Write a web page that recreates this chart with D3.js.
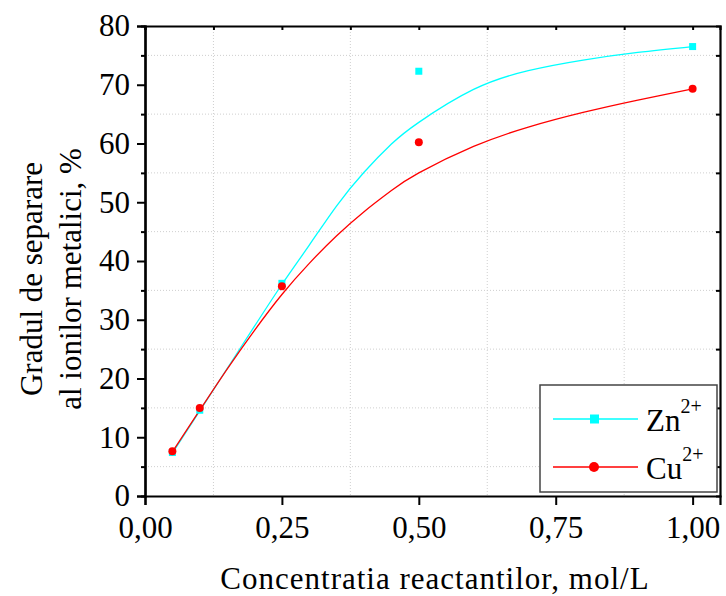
<!DOCTYPE html>
<html>
<head>
<meta charset="utf-8">
<script src="https://cdn.jsdelivr.net/npm/d3@7"></script>
<style>
  body { margin: 0; background: #fff; }
  svg, svg text { font-family: "Liberation Serif", "Times New Roman", Times, Tinos, "DejaVu Serif", "Noto Serif", serif; }
</style>
</head>
<body>
<div id="container"></div>
<script>
const WIDTH = 726;
const HEIGHT = 596;
const FONT = '"Liberation Serif", "Times New Roman", Times, Tinos, "DejaVu Serif", "Noto Serif", serif';

// measured points
const concentrations = [0.05, 0.1, 0.25, 0.5, 1.0];
const znValues = [7.4, 14.6, 36.2, 72.3, 76.5];
const cuValues = [7.6, 15.0, 35.7, 60.2, 69.3];

// fitted curves
const fitX = [0.05, 0.1, 0.15, 0.2, 0.25, 0.3, 0.35, 0.4, 0.45, 0.5, 0.6, 0.7, 0.8, 0.9, 1.0];
const znFit = [7.3, 14.5, 21.7, 28.9, 36.0, 42.7, 49.4, 55.1, 59.9, 63.6, 69.2, 72.4, 74.2, 75.5, 76.5];
const cuFit = [7.5, 14.6, 21.6, 28.2, 34.3, 39.6, 44.3, 48.4, 52.0, 55.0, 59.5, 62.8, 65.3, 67.4, 69.3];

const xTicks = [0, 0.25, 0.5, 0.75, 1.0];
const xMinor = [0.125, 0.375, 0.625, 0.875];
const yTicks = [0, 10, 20, 30, 40, 50, 60, 70, 80];
const yMinor = [5, 15, 25, 35, 45, 55, 65, 75];

const seriesNames = ["Zn", "Cu"];
const seriesColors = ["#00ffff", "#ff0000"];

const x = d3.scaleLinear().domain([0, 1.05]).range([145, 720]);
const y = d3.scaleLinear().domain([0, 80]).range([496, 26]);

const svg = d3.select("#container")
  .append("svg")
  .attr("width", WIDTH)
  .attr("height", HEIGHT)
  .attr("font-family", FONT);

// dotted grid on minor positions
const grid = svg.append("g").attr("stroke", "#cfcfcf").attr("stroke-width", 1).attr("stroke-dasharray", "1,2");
grid.selectAll(".gx").data(xMinor).enter().append("line")
  .attr("x1", (d) => x(d)).attr("x2", (d) => x(d))
  .attr("y1", y(80)).attr("y2", y(0));
grid.selectAll(".gy").data(yMinor).enter().append("line")
  .attr("x1", x(0)).attr("x2", x(1.05))
  .attr("y1", (d) => y(d)).attr("y2", (d) => y(d));

const fmt = (d) => d3.format(".2f")(d).replace(".", ",");

function styleAxis(g) {
  g.attr("font-family", FONT).attr("font-size", 31);
  g.select(".domain").attr("stroke", "#000").attr("stroke-width", 2.2);
  g.selectAll(".tick line").attr("stroke", "#000").attr("stroke-width", 2);
  g.selectAll(".tick text").attr("fill", "#000");
}

svg.append("g")
  .attr("transform", `translate(0, ${y(0)})`)
  .call(d3.axisBottom(x).tickValues(xTicks).tickFormat(fmt).tickSizeOuter(0).tickSize(9).tickPadding(11))
  .call(styleAxis);

svg.append("g")
  .attr("transform", `translate(0, ${y(80)})`)
  .call(d3.axisTop(x).tickValues(xTicks.concat(xMinor)).tickFormat("").tickSizeOuter(0).tickSize(-4))
  .call(styleAxis);

svg.append("g")
  .attr("transform", `translate(${x(0)}, 0)`)
  .call(d3.axisLeft(y).tickValues(yTicks).tickSizeOuter(0).tickSize(8).tickPadding(7))
  .call(styleAxis);

svg.append("g")
  .attr("transform", `translate(${x(0)}, 0)`)
  .call(d3.axisLeft(y).tickValues(yMinor).tickFormat("").tickSizeOuter(0).tickSize(4))
  .call(styleAxis);

svg.append("g")
  .attr("transform", `translate(${x(1.05)}, 0)`)
  .call(d3.axisRight(y).tickValues(yMinor).tickFormat("").tickSizeOuter(0).tickSize(-4))
  .call(styleAxis);

// fit curves
const line = d3.line().x((d) => x(d[0])).y((d) => y(d[1])).curve(d3.curveNatural);
svg.append("path")
  .datum(d3.zip(fitX, znFit))
  .attr("fill", "none").attr("stroke", seriesColors[0]).attr("stroke-width", 1.3)
  .attr("d", line);
svg.append("path")
  .datum(d3.zip(fitX, cuFit))
  .attr("fill", "none").attr("stroke", seriesColors[1]).attr("stroke-width", 1.3)
  .attr("d", line);

// points
svg.selectAll(".zn").data(d3.zip(concentrations, znValues)).enter().append("rect")
  .attr("x", (d) => x(d[0]) - 3.5).attr("y", (d) => y(d[1]) - 3.5)
  .attr("width", 7).attr("height", 7)
  .attr("fill", seriesColors[0]);
svg.selectAll(".cu").data(d3.zip(concentrations, cuValues)).enter().append("circle")
  .attr("cx", (d) => x(d[0])).attr("cy", (d) => y(d[1]))
  .attr("r", 4)
  .attr("fill", seriesColors[1]);

// legend
const legend = svg.append("g");
legend.append("rect")
  .attr("x", 540).attr("y", 385).attr("width", 177).attr("height", 107)
  .attr("fill", "#fff").attr("stroke", "#444").attr("stroke-width", 1.5);

seriesNames.forEach((name, i) => {
  const ly = 419 + i * 48;
  legend.append("line")
    .attr("x1", 553).attr("x2", 638).attr("y1", ly).attr("y2", ly)
    .attr("stroke", seriesColors[i]).attr("stroke-width", 1.3);
  if (i === 0) {
    legend.append("rect").attr("x", 590).attr("y", ly - 4.5).attr("width", 9).attr("height", 9)
      .attr("fill", seriesColors[i]);
  } else {
    legend.append("circle").attr("cx", 594).attr("cy", ly).attr("r", 5).attr("fill", seriesColors[i]);
  }
  const t = legend.append("text").attr("x", 646).attr("y", ly + 12).attr("font-size", 31);
  t.append("tspan").text(name);
  t.append("tspan").attr("dy", -18).attr("font-size", 20).text("2+");
});

// axis titles
svg.append("text")
  .attr("x", 435).attr("y", 589)
  .attr("text-anchor", "middle")
  .attr("font-size", 31)
  .attr("letter-spacing", 1)
  .text("Concentratia reactantilor, mol/L");

const yTitle = svg.append("text")
  .attr("transform", "translate(42, 279) rotate(-90)")
  .attr("text-anchor", "middle")
  .attr("font-size", 31);
yTitle.append("tspan").attr("x", 0).attr("y", 0).text("Gradul de separare");
yTitle.append("tspan").attr("x", 0).attr("y", 39).text("al ionilor metalici, %");
</script>
</body>
</html>
